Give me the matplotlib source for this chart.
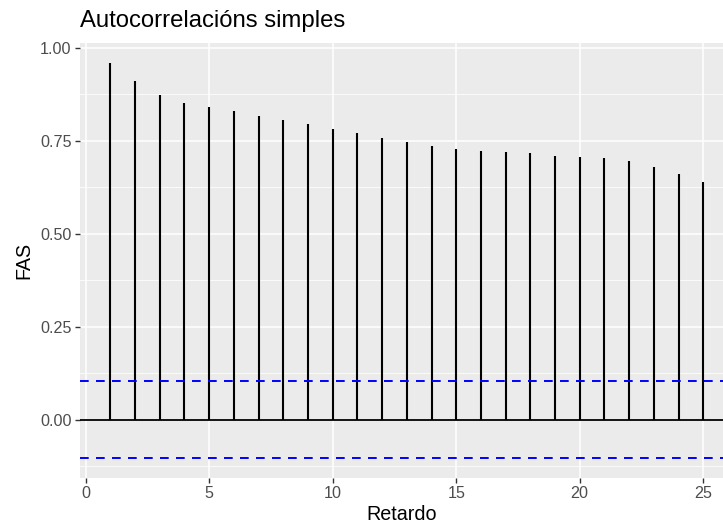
import numpy as np
import matplotlib
matplotlib.use("Agg")
import matplotlib.pyplot as plt

# ACF values (lags 1..25)
lags = list(range(1, 26))
acf_vals = [0.960, 0.910, 0.872, 0.852, 0.840, 0.830, 0.817, 0.807, 0.794, 0.782,
            0.770, 0.757, 0.746, 0.736, 0.729, 0.722, 0.719, 0.716, 0.710, 0.707,
            0.703, 0.696, 0.679, 0.660, 0.639]
conf_limit = 0.103

x_ticks = [0, 5, 10, 15, 20, 25]
y_ticks = [0.0, 0.25, 0.50, 0.75, 1.00]
y_tick_labels = ["0.00", "0.25", "0.50", "0.75", "1.00"]

plt.rcParams['font.family'] = ['Liberation Sans', 'DejaVu Sans']

W, H = 723, 527
fig = plt.figure(figsize=(W / 100, H / 100), dpi=100)

# panel placement in pixels
left, right, top, bottom = 80, 723, 43.3, 477.7
ax = fig.add_axes([left / W, 1 - bottom / H, (right - left) / W, (bottom - top) / H])

ax.set_facecolor('#EBEBEB')
for s in ax.spines.values():
    s.set_visible(False)

# grid
for y in [-0.125, 0.125, 0.375, 0.625, 0.875]:
    ax.axhline(y, color='white', lw=0.55, zorder=0)
for y in y_ticks:
    ax.axhline(y, color='white', lw=1.1, zorder=0)
for x in x_ticks:
    ax.axvline(x, color='white', lw=1.1, zorder=0)

# bars
ax.vlines(lags, 0, acf_vals, color='black', lw=1.5, zorder=3)
ax.axhline(0, color='black', lw=1.3, zorder=3)

# confidence limits (dashes ~8.7px on, ~7.3px off)
lw_ci = 1.4
dash = (0, (8.7 * 0.72 / lw_ci, 7.3 * 0.72 / lw_ci))
ax.axhline(conf_limit, color='blue', lw=lw_ci, ls=dash, zorder=4)
ax.axhline(-conf_limit, color='blue', lw=lw_ci, ls=dash, zorder=4)

ax.set_xlim(-0.23, 25.8)
ax.set_ylim(-0.156, 1.012)

ax.set_xticks(x_ticks)
ax.set_yticks(y_ticks)
ax.set_yticklabels(y_tick_labels)
ax.tick_params(axis='both', colors='#333333', labelcolor='#4D4D4D',
               labelsize=11.6, length=3.5, width=1.0, pad=2.5)

ax.set_xlabel("Retardo", fontsize=14.2, labelpad=3)
ax.set_ylabel("FAS", fontsize=14.2, labelpad=5)
ax.set_title("Autocorrelacións simples", loc='left', fontsize=17.2, pad=12)

fig.savefig("out.png", dpi=100)
